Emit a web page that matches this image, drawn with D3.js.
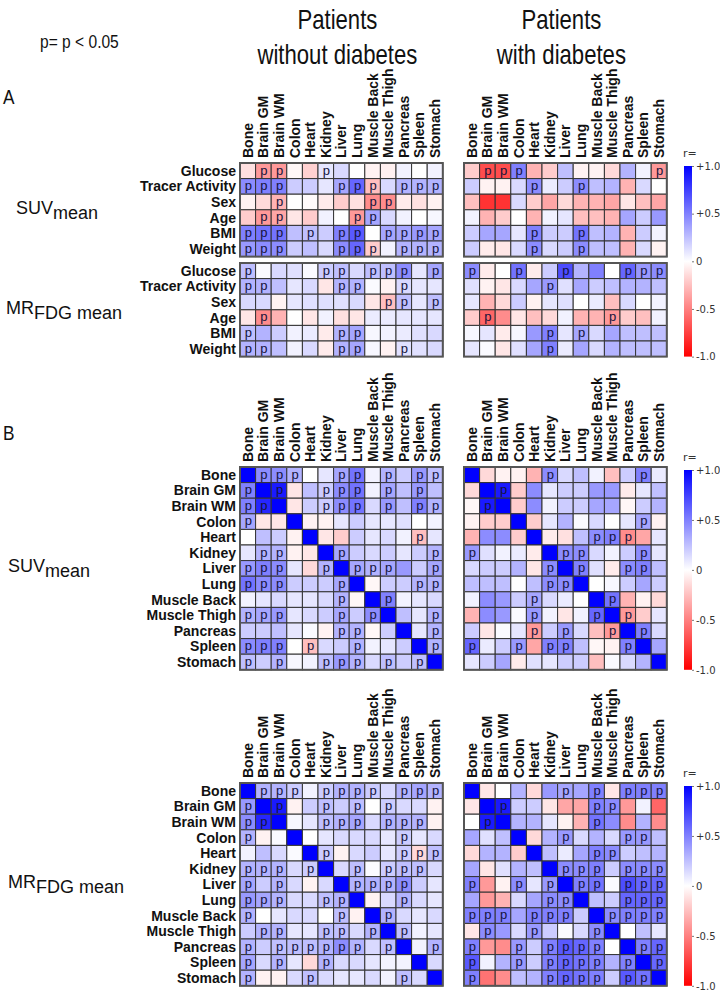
<!DOCTYPE html>
<html><head><meta charset="utf-8">
<script src="https://cdn.jsdelivr.net/npm/d3@7"></script>
<style>body{margin:0;background:#fff} svg{display:block}</style>
</head><body>
<script>
// ---------------- DATA ----------------
const organs = ["Bone","Brain GM","Brain WM","Colon","Heart","Kidney","Liver","Lung","Muscle Back","Muscle Thigh","Pancreas","Spleen","Stomach"];
const clinicalVars = ["Glucose","Tracer Activity","Sex","Age","BMI","Weight"];
const groupTitles = [["Patients","without diabetes"],["Patients","with diabetes"]];
const sigNote = "p= p < 0.05";
const sigMark = "p";
const tickValues = [1, 0.5, 0, -0.5, -1];
const tickLabels = ["+1.0", "+0.5", "0", "-0.5", "-1.0"];

// Panel A: SUVmean vs clinical variables
const suvClinNoDM = [
  [-0.12,-0.4,-0.4,-0.03,-0.18,0.1,0.15,0.0,-0.05,-0.06,0.05,0.0,0.05],
  [0.45,0.5,0.5,0.2,0.2,0.1,0.35,0.6,-0.25,0.15,0.3,0.3,0.3],
  [-0.05,-0.15,-0.3,0.0,-0.02,-0.08,-0.2,-0.12,-0.45,-0.45,-0.08,-0.12,-0.05],
  [-0.2,-0.4,-0.35,-0.1,-0.2,0.05,0.0,-0.4,0.35,0.15,0.05,0.0,0.03],
  [0.5,0.55,0.55,0.25,0.25,0.2,0.5,0.65,0.0,0.35,0.35,0.4,0.35],
  [0.4,0.45,0.45,0.2,0.25,0.15,0.45,0.6,-0.2,0.05,0.3,0.3,0.3]];
const suvClinNoDMSig = ["0110010000000","1110001110111","0010000011000","0110000110000","1110101101111","1110001110111"];

const suvClinDM = [
  [-0.2,-0.7,-0.7,0.5,-0.3,-0.2,0.25,-0.05,-0.05,-0.15,0.3,0.05,-0.4],
  [0.2,-0.05,-0.05,0.15,0.45,0.08,0.2,0.45,0.25,0.3,-0.3,0.15,0.0],
  [-0.25,-0.8,-0.8,0.15,-0.2,-0.35,-0.15,-0.3,-0.3,-0.35,-0.1,-0.25,-0.35],
  [0.05,-0.3,-0.2,0.0,-0.3,0.05,0.1,-0.25,-0.25,-0.3,0.35,0.2,0.4],
  [0.2,0.35,0.35,0.1,0.5,0.2,0.2,0.55,0.25,0.3,-0.3,0.2,0.05],
  [0.2,-0.08,-0.1,0.15,0.45,0.15,0.2,0.45,0.25,0.25,-0.3,0.15,-0.05]];
const suvClinDMSig = ["0111000000001","0000100100000","0000000000000","0000000000000","0000100100000","0000100100000"];

// Panel A: MRFDG mean vs clinical variables
const mrClinNoDM = [
  [0.25,0.02,0.15,0.12,0.02,0.2,0.25,0.15,0.25,0.25,0.45,0.1,0.35],
  [0.3,0.3,0.25,0.1,0.15,-0.1,0.3,0.3,0.02,-0.05,0.15,0.1,0.1],
  [0.15,0.15,-0.05,0.1,0.12,0.12,0.12,0.15,-0.1,-0.25,0.25,0.1,0.25],
  [-0.1,-0.45,-0.3,0.0,-0.1,0.05,-0.12,-0.1,0.08,0.08,0.1,0.1,0.1],
  [0.25,0.3,0.2,0.05,0.08,-0.08,0.3,0.35,0.03,0.05,0.08,0.12,0.15],
  [0.3,0.3,0.25,0.05,0.15,-0.08,0.3,0.35,0.03,-0.05,0.12,0.12,0.15]];
const mrClinNoDMSig = ["1000011011101","1100001100100","0000000001101","0100000000000","1000001100000","1100001100100"];

const mrClinDM = [
  [0.45,-0.08,0.0,0.55,-0.08,0.2,0.7,0.3,0.5,0.0,0.6,0.4,0.45],
  [0.12,-0.05,-0.1,0.15,0.35,0.4,0.12,0.35,0.2,0.25,0.3,0.3,0.25],
  [0.1,-0.3,-0.15,0.2,-0.05,0.1,0.12,0.0,0.08,-0.25,0.15,0.0,0.05],
  [-0.2,-0.6,-0.45,-0.1,-0.25,-0.15,0.05,-0.3,-0.3,-0.4,-0.2,-0.25,0.05],
  [0.03,0.1,-0.08,0.03,0.4,0.5,0.1,0.35,0.15,0.35,0.25,0.25,0.25],
  [0.1,0.02,-0.1,0.12,0.35,0.5,0.08,0.35,0.15,0.3,0.25,0.25,0.25]];
const mrClinDMSig = ["1001001000111","0000010000000","0000000000000","0100000001000","0000010100000","0000010000000"];

// Panel B: organ x organ, SUVmean
const suvOrgNoDM = [
  [1,0.45,0.45,0.3,0.0,0.1,0.35,0.55,0.05,0.3,0.2,0.4,0.25],
  [0.5,1,0.9,-0.1,0.25,0.2,0.45,0.55,0.05,0.35,0.25,0.4,0.25],
  [0.5,0.85,1,-0.1,0.2,0.2,0.45,0.55,0.15,0.4,0.25,0.5,0.3],
  [0.35,-0.1,-0.1,1,-0.05,-0.05,0.1,0.2,0.1,0.1,0.12,0.0,0.05],
  [0.0,0.25,0.2,-0.05,1,-0.1,-0.2,0.2,0.1,0.15,0.05,-0.25,0.1],
  [0.1,0.3,0.3,-0.05,-0.1,1,0.35,0.2,0.15,0.2,0.1,0.2,0.3],
  [0.4,0.5,0.45,0.1,-0.15,0.3,1,0.35,0.3,0.35,0.4,0.2,0.35],
  [0.55,0.45,0.45,0.2,0.2,0.2,0.35,1,-0.03,0.2,0.2,0.3,0.3],
  [0.05,0.1,0.15,0.1,0.1,0.15,0.3,-0.03,1,0.5,0.05,0.1,0.15],
  [0.3,0.35,0.4,0.1,0.15,0.2,0.35,0.2,0.45,1,0.25,0.1,0.3],
  [0.2,0.2,0.25,0.1,0.02,-0.05,0.3,0.3,-0.03,0.2,1,0.1,0.3],
  [0.45,0.5,0.5,0.0,-0.25,0.15,0.2,0.3,0.05,0.1,0.2,1,0.3],
  [0.25,0.2,0.3,0.03,0.05,0.25,0.4,0.3,0.15,0.25,0.2,0.25,1]];
const suvOrgNoDMSig = ["0111001101011","1010011101010","1100011101011","1000000000000","0000000000010","0110001000001","1110010111001","1110001000011","0000001001000","1110001010001","0000001100001","1110100100001","1010011101010"];

const suvOrgDM = [
  [1,-0.15,-0.05,-0.05,-0.3,0.45,0.15,0.25,0.05,-0.25,0.2,0.5,0.08],
  [-0.15,1,0.9,-0.2,0.45,0.1,0.2,0.2,0.4,0.4,-0.08,0.1,0.25],
  [-0.03,0.9,1,-0.2,0.45,0.05,0.2,0.2,0.35,0.35,-0.03,0.2,0.3],
  [-0.05,-0.2,-0.2,1,-0.2,0.1,0.3,0.02,0.15,0.0,0.1,0.35,-0.05],
  [-0.3,0.45,0.45,-0.2,1,-0.08,-0.12,0.25,0.45,0.5,-0.45,-0.35,0.1],
  [0.4,0.12,0.05,0.08,-0.08,1,0.45,0.45,0.15,0.05,0.2,0.45,0.1],
  [0.15,0.2,0.2,0.3,-0.1,0.45,1,0.5,0.12,-0.08,0.45,0.5,0.25],
  [0.25,0.25,0.25,0.0,0.25,0.45,0.45,1,0.0,0.03,0.2,0.35,0.2],
  [0.05,0.45,0.4,0.2,0.35,0.15,0.08,0.0,1,0.55,-0.3,-0.05,-0.15],
  [-0.3,0.45,0.4,0.02,0.4,0.05,-0.1,0.05,0.6,1,-0.4,-0.2,0.1],
  [0.2,-0.1,0.02,0.1,-0.4,0.2,0.4,0.15,-0.25,-0.4,1,0.5,0.15],
  [0.6,0.08,0.2,0.4,-0.35,0.5,0.5,0.25,-0.03,-0.05,0.5,1,0.35],
  [0.1,0.2,0.35,-0.08,0.12,0.1,0.2,0.2,-0.25,0.02,0.15,0.3,1]];
const suvOrgDMSig = ["0000010000010","0010000000000","0100000000000","0000000000010","0000000011100","1000001100010","0000010100110","0000011000000","0000100001000","0000100010100","0000101001010","1001011000100","0000000000000"];

// Panel B: organ x organ, MRFDG mean
const mrOrgNoDM = [
  [1,0.3,0.3,0.2,0.05,0.2,0.3,0.3,0.2,0.15,0.3,0.35,0.3],
  [0.4,1,0.9,-0.05,0.2,0.25,0.2,0.25,0.0,0.2,0.15,0.15,-0.05],
  [0.45,0.85,1,0.03,0.1,0.25,0.3,0.35,0.15,0.3,0.3,0.3,-0.05],
  [0.3,-0.05,0.02,1,0.0,0.1,0.15,0.15,0.15,0.1,0.2,0.1,0.15],
  [0.05,0.25,0.15,0.02,1,0.2,-0.05,0.15,0.2,0.1,0.2,-0.15,0.25],
  [0.3,0.3,0.3,0.15,0.2,1,0.15,0.25,0.02,0.2,0.25,0.25,0.15],
  [0.35,0.2,0.3,0.15,-0.05,0.15,1,0.3,0.3,0.3,0.45,0.2,0.1],
  [0.4,0.35,0.3,0.15,0.15,0.25,0.3,1,-0.05,0.15,0.3,0.15,0.1],
  [0.3,0.0,0.1,0.15,0.15,0.0,0.25,-0.05,1,0.3,0.15,0.1,0.15],
  [0.2,0.3,0.3,0.1,0.1,0.25,0.25,0.15,0.3,1,0.25,0.05,0.1],
  [0.3,0.2,0.25,0.25,0.25,0.3,0.45,0.3,0.15,0.25,1,0.05,0.3],
  [0.35,0.15,0.3,0.1,-0.15,0.3,0.15,0.15,0.1,0.05,0.05,1,0.15],
  [0.3,-0.05,-0.05,0.15,0.25,0.15,0.1,0.1,0.15,0.05,0.25,0.15,1]];
const mrOrgNoDMSig = ["0111011110111","1010010101000","1100011101110","1000000000100","0000010000111","1110100101110","1010000111100","1110011000100","1000001001000","0110011010100","1011111101001","1010010000000","1000100000100"];

const mrOrgDM = [
  [1,-0.1,0.0,0.3,-0.15,0.4,0.35,0.35,0.5,-0.1,0.5,0.5,0.5],
  [-0.1,1,0.9,0.2,0.2,-0.1,-0.35,-0.35,0.5,0.45,-0.4,0.05,-0.6],
  [0.0,0.9,1,0.3,0.3,0.1,-0.05,-0.3,0.55,0.45,-0.45,0.3,-0.45],
  [0.35,0.12,0.25,1,-0.15,0.3,0.4,0.15,0.3,0.15,0.4,0.4,0.25],
  [-0.15,0.3,0.3,-0.2,1,0.25,0.08,0.35,0.5,0.45,0.2,0.25,0.3],
  [0.35,-0.1,0.12,0.3,0.25,1,0.45,0.45,0.5,0.2,0.45,0.45,0.45],
  [0.5,-0.4,-0.05,0.45,0.1,0.4,1,0.5,0.55,0.02,0.7,0.6,0.6],
  [0.35,-0.4,-0.3,0.15,0.35,0.45,0.45,1,0.25,0.2,0.6,0.6,0.6],
  [0.5,0.5,0.5,0.35,0.5,0.5,0.5,0.2,1,0.45,0.5,0.5,0.5],
  [-0.1,0.45,0.4,0.15,0.4,0.2,0.02,0.15,0.45,1,0.0,0.25,0.1],
  [0.5,-0.4,-0.45,0.4,0.2,0.5,0.65,0.6,0.5,0.0,1,0.5,0.6],
  [0.65,0.05,0.3,0.4,0.2,0.5,0.6,0.55,0.5,0.3,0.5,1,0.6],
  [0.5,-0.55,-0.45,0.25,0.3,0.5,0.6,0.55,0.5,0.2,0.65,0.55,1]];
const mrOrgDMSig = ["0000001010111","0010000011000","0100000010000","0000001000110","0000000011000","0000001110111","1001010110111","0000011000111","1110111001111","0100100010000","1001011110011","1001011110101","1000011110110"];

// ---------------- LAYOUT ----------------
const W = 720, H = 991, cell = 15.6;
const xLeft = 240, xRight = 464;
const barX = 684, barW = 8;
const color = d3.scaleLinear().domain([-1, 0, 1]).range(["#ff0000", "#ffffff", "#0000ff"]);

const svg = d3.select("body").append("svg").attr("width", W).attr("height", H)
  .style("font-family", "'Liberation Sans', Arial, sans-serif");

// gradient
const grad = svg.append("defs").append("linearGradient").attr("id", "cbar")
  .attr("x1", 0).attr("y1", 0).attr("x2", 0).attr("y2", 1);
grad.selectAll("stop").data(tickValues).join("stop")
  .attr("offset", (d, i) => i / (tickValues.length - 1))
  .attr("stop-color", d => color(d));

function narrowText(x, y, str, size, anchor) {
  svg.append("text")
    .attr("transform", `translate(${x},${y}) scale(0.82,1)`)
    .attr("text-anchor", anchor || "start")
    .attr("font-size", size).attr("fill", "#111").text(str);
}

// titles
[xLeft, xRight].forEach((x0, k) => {
  const cx = x0 + organs.length * cell / 2 - 4;
  narrowText(cx, 29, groupTitles[k][0], 27, "middle");
  narrowText(cx, 64, groupTitles[k][1], 27, "middle");
});
narrowText(40, 48, sigNote, 19, "start");
narrowText(3, 104, "A", 21, "start");
narrowText(3, 440, "B", 21, "start");

function colLabels(x0, y0) {
  const x = d3.scaleBand().domain(organs).range([x0, x0 + organs.length * cell]);
  svg.append("g").selectAll("text").data(organs).join("text")
    .attr("transform", d => `translate(${x(d) + x.bandwidth() / 2 + 5},${y0 - 5}) rotate(-90)`)
    .attr("font-size", 14).attr("font-weight", "bold").attr("fill", "#111")
    .text(d => d);
}

function rowLabels(rows, y0) {
  const y = d3.scaleBand().domain(rows).range([y0, y0 + rows.length * cell]);
  svg.append("g").selectAll("text").data(rows).join("text")
    .attr("x", xLeft - 4).attr("y", d => y(d) + y.bandwidth() / 2).attr("dy", "0.36em")
    .attr("text-anchor", "end").attr("font-size", 14).attr("font-weight", "bold").attr("fill", "#111")
    .text(d => d);
}

function matrix(values, sig, rows, x0, y0) {
  const x = d3.scaleBand().domain(organs).range([x0, x0 + organs.length * cell]);
  const y = d3.scaleBand().domain(rows).range([y0, y0 + rows.length * cell]);
  const cells = rows.flatMap((r, i) => organs.map((c, j) => ({ r, c, v: values[i][j], p: sig[i][j] === "1" })));
  const g = svg.append("g");
  g.selectAll("rect").data(cells).join("rect")
    .attr("x", d => x(d.c)).attr("y", d => y(d.r))
    .attr("width", x.bandwidth()).attr("height", y.bandwidth())
    .attr("fill", d => color(d.v)).attr("stroke", "#333").attr("stroke-width", 1);
  g.selectAll("text").data(cells.filter(d => d.p)).join("text")
    .attr("x", d => x(d.c) + x.bandwidth() / 2 + 0.5).attr("y", d => y(d.r) + 11.5)
    .attr("text-anchor", "middle").attr("font-size", 13).attr("fill", "#14143c")
    .text(sigMark);
  g.append("rect").attr("x", x0).attr("y", y0)
    .attr("width", organs.length * cell).attr("height", rows.length * cell)
    .attr("fill", "none").attr("stroke", "#555").attr("stroke-width", 2);
}

function colorbar(top, bottom) {
  svg.append("rect").attr("x", barX).attr("y", top).attr("width", barW).attr("height", bottom - top)
    .attr("fill", "url(#cbar)");
  const s = d3.scaleLinear().domain([-1, 1]).range([bottom, top]);
  const ax = svg.append("g").attr("transform", `translate(${barX + barW},0)`)
    .call(d3.axisRight(s).tickValues(tickValues).tickSize(2).tickPadding(2)
      .tickFormat((d, i) => tickLabels[i]));
  ax.select(".domain").remove();
  ax.selectAll("line").attr("stroke", "#777");
  ax.selectAll("text").attr("font-family", "'DejaVu Sans', Verdana, sans-serif").attr("font-size", 10).attr("fill", "#333");
  svg.append("text").attr("x", barX - 1).attr("y", top - 9)
    .attr("font-family", "'DejaVu Sans', Verdana, sans-serif").attr("font-size", 11).attr("fill", "#333").text("r=");
}

function sideLabel(x, cy, main, sub) {
  const t = svg.append("text").attr("x", x).attr("y", cy + 4).attr("font-size", 18).attr("fill", "#111");
  t.append("tspan").text(main);
  t.append("tspan").attr("dy", 5).text(sub);
}

// Panel A
const aSuvY = 163, aMrY = 263;
colLabels(xLeft, aSuvY); colLabels(xRight, aSuvY);
rowLabels(clinicalVars, aSuvY); rowLabels(clinicalVars, aMrY);
matrix(suvClinNoDM, suvClinNoDMSig, clinicalVars, xLeft, aSuvY);
matrix(suvClinDM, suvClinDMSig, clinicalVars, xRight, aSuvY);
matrix(mrClinNoDM, mrClinNoDMSig, clinicalVars, xLeft, aMrY);
matrix(mrClinDM, mrClinDMSig, clinicalVars, xRight, aMrY);
colorbar(aSuvY + 3, aMrY + clinicalVars.length * cell);
sideLabel(16, aSuvY + clinicalVars.length * cell / 2, "SUV", "mean");
sideLabel(6, aMrY + clinicalVars.length * cell / 2, "MR", "FDG mean");

// Panel B
const bSuvY = 467, bMrY = 783;
const nB = organs.length * cell;
[bSuvY, bMrY].forEach(y0 => {
  colLabels(xLeft, y0); colLabels(xRight, y0);
  rowLabels(organs, y0);
  colorbar(y0 + 3, y0 + nB);
});
matrix(suvOrgNoDM, suvOrgNoDMSig, organs, xLeft, bSuvY);
matrix(suvOrgDM, suvOrgDMSig, organs, xRight, bSuvY);
matrix(mrOrgNoDM, mrOrgNoDMSig, organs, xLeft, bMrY);
matrix(mrOrgDM, mrOrgDMSig, organs, xRight, bMrY);
sideLabel(8, bSuvY + nB / 2, "SUV", "mean");
sideLabel(8, bMrY + nB / 2, "MR", "FDG mean");
</script>
</body></html>
